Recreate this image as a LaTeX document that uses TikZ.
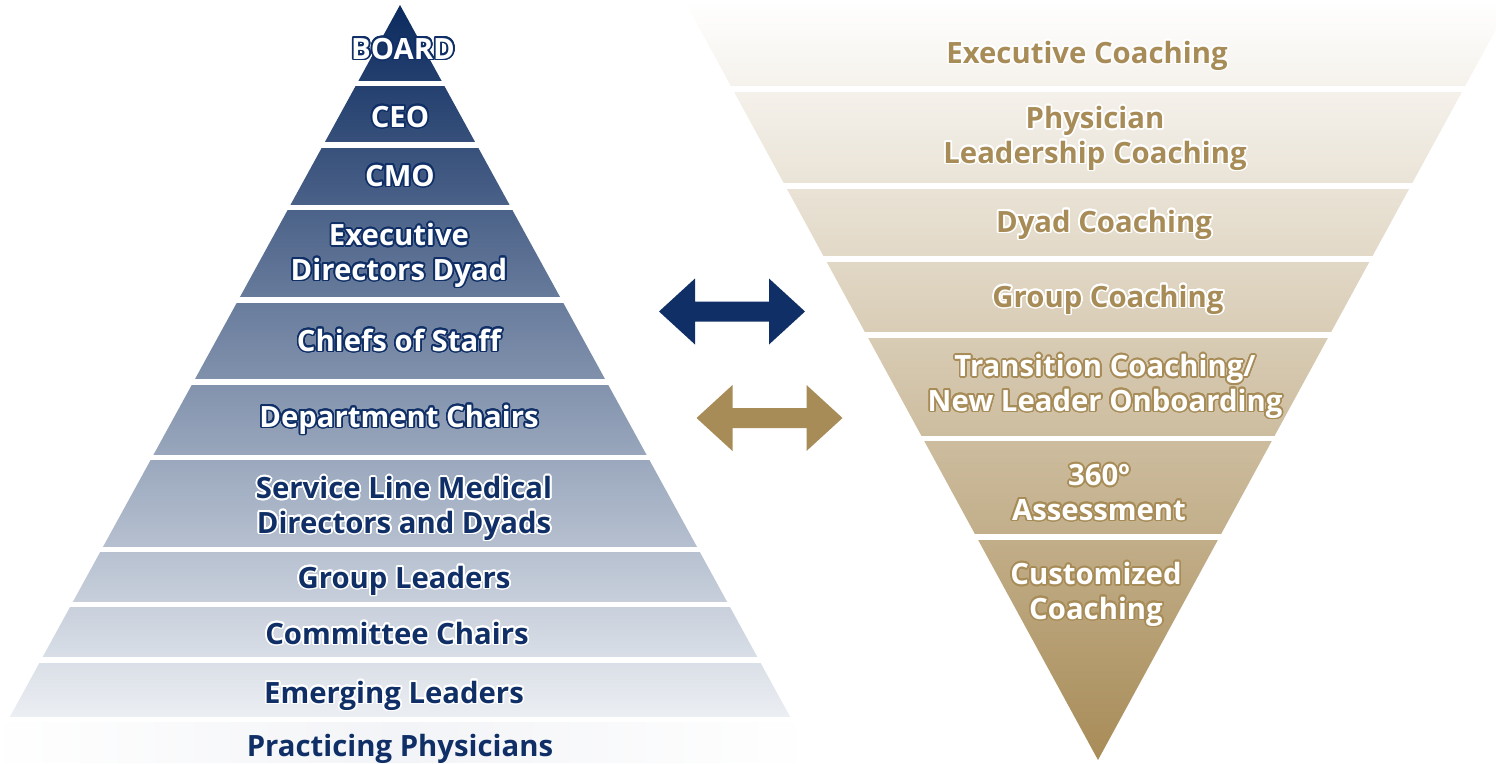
\documentclass[tikz,border=0pt]{standalone}
\usepackage{fontspec}
\setmainfont{Open Sans}
\usepackage{xcolor}
\definecolor{m_navy}{HTML}{0F2F66}
\definecolor{m_navytop}{HTML}{0B2A5E}
\definecolor{m_paleblue}{HTML}{EDF0F4}
\definecolor{m_mist}{HTML}{F3F4F7}
\definecolor{m_gold}{HTML}{A88C58}
\usepackage[copies]{contour}
\contourlength{1.7pt}
\contournumber{24}
\usepackage{tikz}

\newcommand{\ring}[2]{\contour{#1}{#2}}

\begin{document}
\begin{tikzpicture}[
        x=1pt, y=-1pt,
        every node/.style={font=\bfseries\fontsize{29.3}{34.5}\selectfont,align=center,inner sep=0pt,anchor=base},
        hi/.style={text=white},
        lo/.style={text=m_navy},
        goldtext/.style={text=m_gold},
        gap/.style={white,line width=5.5pt},
        dblarrow/.pic={
            \path[pic actions] (-73,0) -- (-37,-33) -- (-37,-10) -- (37,-10) -- (37,-33)
                -- (73,0) -- (37,33) -- (37,10) -- (-37,10) -- (-37,33) -- cycle;}
    ]
    \clip (0,0) rectangle (1496,763);

    % leadership pyramid
    \shade[top color=m_navytop,bottom color=m_paleblue] (400,5) -- (793,722) -- (7,722) -- cycle;
    \shade[left color=white,right color=white,middle color=m_mist] (7,722) -- (793,722) -- (815,763) -- (-15,763) -- cycle;
    \foreach \g in {83.5,145,207.5,300,382,457.5,549.5,604.5,660,719.5}
        \draw[gap] ({400-0.56*(\g-5)-12},\g) -- ({400+0.56*(\g-5)+12},\g);

    % coaching pyramid
    \shade[top color=white,bottom color=m_gold] (684,0) -- (1512,0) -- (1098,760) -- cycle;
    \foreach \g in {89,186,259,335,438.5,537}
        \draw[gap] ({1098-0.55*(760-\g)-12},\g) -- ({1098+0.55*(760-\g)+12},\g);

    \pic[fill=m_navy] (navyarrow) at (732,311.5) {dblarrow};
    \pic[fill=m_gold] (goldarrow) at (769.5,418) {dblarrow};

    % multi-line labels sit on the baseline of their last line
    \node[hi] (board) at (403,59) {\ring{m_navy}{BOARD}};
    \node[hi] (ceo) at (400,127) {\ring{m_navy}{CEO}};
    \node[hi] (cmo) at (400,186) {\ring{m_navy}{CMO}};
    \node[hi] (execdir) at (399,280) {\ring{m_navy}{Executive}\\\ring{m_navy}{Directors Dyad}};
    \node[hi] (chiefs) at (399,351) {\ring{m_navy}{Chiefs of Staff}};
    \node[hi] (deptchairs) at (399,427) {\ring{m_navy}{Department Chairs}};
    \node[lo] (servline) at (404,533) {\ring{white}{Service Line Medical}\\\ring{white}{Directors and Dyads}};
    \node[lo] (groupldr) at (404,588) {\ring{white}{Group Leaders}};
    \node[lo] (committee) at (397,644) {\ring{white}{Committee Chairs}};
    \node[lo] (emerging) at (394,703) {\ring{white}{Emerging Leaders}};
    \node[lo] (practicing) at (400,756) {Practicing Physicians};

    \node[goldtext] (execcoach) at (1087,63) {\ring{white}{Executive Coaching}};
    \node[goldtext] (physcoach) at (1095,163) {\ring{white}{Physician}\\\ring{white}{Leadership Coaching}};
    \node[goldtext] (dyadcoach) at (1104,232) {\ring{white}{Dyad Coaching}};
    \node[goldtext] (groupcoach) at (1108,307) {\ring{white}{Group Coaching}};
    \node[hi] (transition) at (1105,411) {\ring{m_gold}{Transition Coaching/}\\\ring{m_gold}{New Leader Onboarding}};
    \node[hi] (assessment) at (1099,520) {\ring{m_gold}{360º}\\\ring{m_gold}{Assessment}};
    \node[hi] (customized) at (1096,619) {\ring{m_gold}{Customized}\\\ring{m_gold}{Coaching}};
\end{tikzpicture}
\end{document}
